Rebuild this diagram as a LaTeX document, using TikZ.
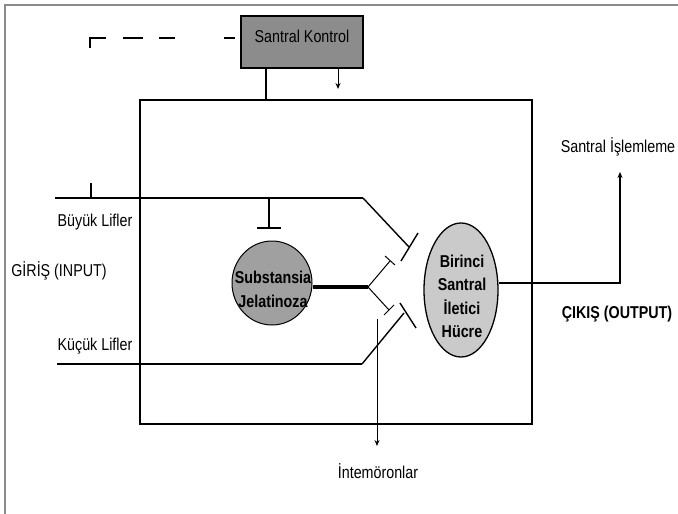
\documentclass[tikz,border=0pt]{standalone}
\usepackage{graphicx}
\usepackage{fontspec}
\setmainfont{Liberation Sans}
\usetikzlibrary{arrows.meta,shapes.geometric}
\definecolor{skgray}{HTML}{8C8C8C}
\definecolor{sggray}{HTML}{A0A0A0}
\definecolor{hcgray}{HTML}{CACACA}
\definecolor{framegray}{HTML}{8A8A8A}
\newcommand{\vstretch}[1]{\scalebox{1}[1.2]{#1}}
\newcommand{\stack}[1]{\vstretch{\begin{tabular}{@{}c@{}}#1\end{tabular}}}
\begin{document}
\begin{tikzpicture}[x=1pt,y=-1pt,
  lbl/.style={font=\fontsize{14.3}{19.8}\selectfont, inner sep=0pt, align=center},
  blbl/.style={font=\fontsize{14.3}{19.8}\selectfont\bfseries, inner sep=0pt, align=center},
  heavy/.style={line width=1.7pt},
  fibre/.style={line width=1.4pt},
  branch/.style={line width=1pt},
  tip/.style={-{Stealth[length=6pt,width=5pt]}}
]
\useasboundingbox (0,0) rectangle (678,514);
% frame
\draw[framegray, line width=1.3pt] (678,5) -- (5,5) -- (5,514);

% Santral Kontrol
\node[draw, heavy, fill=skgray, minimum width=122pt, minimum height=52pt, inner sep=0pt] (sk) at (302,42) {};
\node[lbl] (sktext) at ([yshift=6pt]sk.center) {\vstretch{Santral Kontrol}};

% main box
\draw[heavy] (140,100) rectangle (532,424);

% sk to box
\coordinate (skL) at (266,100);
\draw[heavy] (skL |- sk.south) -- (skL);
\coordinate (skA) at (338,89);
\draw[branch, tip] (skA |- sk.south) -- (skA);

% dashed feedback
\coordinate (dc) at (90,48);
\draw[line width=2pt, dash pattern=on 26pt off 17pt on 20pt off 16pt on 16pt off 49pt on 11pt off 6pt]
  (dc) |- ([yshift=4pt]sk.west);

% large fibres
\coordinate (bL) at (55,198);
\coordinate (bK) at (363,198);
\coordinate (bT) at (409,247);
\draw[heavy] (bL) -- (bK);
\draw[fibre] (bK) -- (bT);
\draw[fibre] (418,233) -- (401,261);
\draw[heavy] (91,183) -- (91,198);
% inhibitory to SG
\coordinate (sgT) at (269,228);
\draw[heavy] (sgT |- bL) -- (sgT);
\draw[heavy] (257,228) -- (281,228);

% small fibres
\coordinate (kL) at (57,364);
\coordinate (kK) at (362,364);
\coordinate (kT) at (404,313);
\draw[heavy] (kL) -- (kK);
\draw[fibre] (kK) -- (kT);
\draw[fibre] (400,303) -- (416,328);

% Substansia Jelatinoza
\node[ellipse, draw, line width=1pt, fill=sggray, minimum width=80pt, minimum height=84pt, inner sep=0pt] (sg) at (272,283) {};
\node[blbl] (sgtext) at (273,291) {\stack{Substansia\\Jelatinoza}};

% branches
\coordinate (br) at (368,287);
\draw[line width=4pt] (br -| sg.east) -- (br);
\coordinate (brU) at (390,261);
\coordinate (brD) at (389,310);
\draw[branch] (br) -- (brU);
\draw[branch] (385,256) -- (395,265);
\draw[branch] (br) -- (brD);
\draw[branch] (384,315) -- (394,305);

% interneurons
\coordinate (inT) at (377,319);
\node[lbl] (int) at (378,471) {\vstretch{İntemöronlar}};
\draw[branch, tip] (inT) -- (377,446);

% Birinci Santral Iletici Hucre
\node[ellipse, draw, line width=1.3pt, fill=hcgray, minimum width=74pt, minimum height=134pt, inner sep=0pt] (hc) at (461,290) {};
\node[blbl, font=\fontsize{14.3}{19.6}\selectfont\bfseries] (hctext) at (462,298) {\stack{Birinci\\Santral\\İletici\\Hücre}};

% output
\coordinate (oc) at (620,283);
\coordinate (oT) at (620,172);
\draw[fibre, tip] (hc.east |- oc) -- (oc) -- (oT);
\node[lbl] (sis) at (618,147) {\vstretch{Santral İşlemleme}};
\node[blbl] (out) at (617,314) {\vstretch{ÇIKIŞ (OUTPUT)}};

% input labels
\node[lbl] (inp) at (59,271) {\vstretch{GİRİŞ (INPUT)}};
\node[lbl] (bl) at (95,222) {\vstretch{Büyük Lifler}};
\node[lbl] (kl) at (95,346) {\vstretch{Küçük Lifler}};
\end{tikzpicture}
\end{document}
